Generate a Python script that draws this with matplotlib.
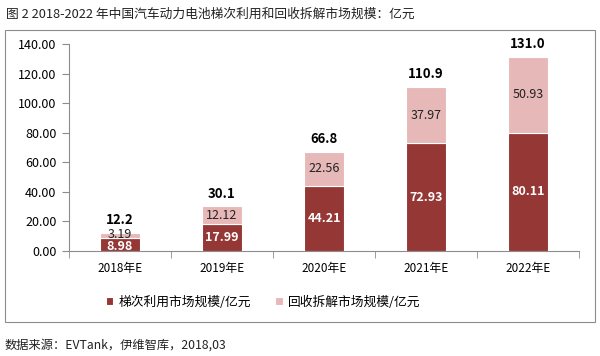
import matplotlib
matplotlib.use("Agg")
import matplotlib.pyplot as plt
from matplotlib.patches import Rectangle
import numpy as np

plt.rcParams['font.family'] = ['Noto Sans CJK SC', 'DejaVu Sans']

categories = ["2018年E", "2019年E", "2020年E", "2021年E", "2022年E"]
cascade = [8.98, 17.99, 44.21, 72.93, 80.11]
recycle = [3.19, 12.12, 22.56, 37.97, 50.93]
totals = ["12.2", "30.1", "66.8", "110.9", "131.0"]
series_names = ["梯次利用市场规模/亿元", "回收拆解市场规模/亿元"]
yticks = [0, 20, 40, 60, 80, 100, 120, 140]

dark = "#953735"
pink = "#E6B9B8"

fig = plt.figure(figsize=(6, 3.56), dpi=100)
# outer frame
fig.patches.append(Rectangle((5/600, 1-322/356), 590/600, (322-30)/356,
                             transform=fig.transFigure, fill=False,
                             edgecolor="#8c8c8c", linewidth=0.8))
fig.text(6/600, 1-14/356, "图 2 2018-2022 年中国汽车动力电池梯次利用和回收拆解市场规模：亿元",
         fontsize=9.2, va="center", ha="left", color="#222222")
fig.text(5/600, 1-345/356, "数据来源：EVTank，伊维智库，2018,03",
         fontsize=8.8, va="center", ha="left", color="#222222")

ax = fig.add_axes([69/600, 1-251/356, 510/600, (251-44)/356])
x = np.arange(len(categories))
w = 0.39
b1 = ax.bar(x, cascade, w, color=dark, edgecolor="white", linewidth=0.8,
            label=series_names[0], zorder=3)
b2 = ax.bar(x, recycle, w, bottom=cascade, color=pink, edgecolor="white",
            linewidth=0.8, label=series_names[1], zorder=3)

for i in range(len(x)):
    c = cascade[i]; r = recycle[i]
    ax.text(x[i], c/2 - (1.5 if i == 0 else 0), f"{c:.2f}", ha="center", va="center",
            color="white", fontsize=9, fontweight="bold", zorder=4)
    ax.text(x[i], c + r/2 + (0.8 if i == 0 else 0), f"{r:.2f}", ha="center", va="center",
            color="#222222", fontsize=9, zorder=4)
    ax.text(x[i], c + r + 4, totals[i], ha="center", va="bottom",
            color="black", fontsize=9.5, fontweight="bold", zorder=4)

ax.set_xlim(-0.5, len(x) - 0.5)
ax.set_ylim(0, 140)
ax.set_yticks(yticks)
ax.set_yticklabels([f"{v:.2f}" for v in yticks], fontsize=9)
ax.set_xticks(x)
ax.set_xticklabels(categories, fontsize=8.5)
ax.set_xticks(np.arange(-0.5, len(x) + 0.5, 1), minor=True)
ax.tick_params(axis="x", which="major", length=0, pad=8)
ax.tick_params(axis="x", which="minor", length=5, color="#8c8c8c", direction="out")
ax.tick_params(axis="y", length=5, color="#8c8c8c", direction="out", pad=4)
for s in ["top", "right"]:
    ax.spines[s].set_visible(False)
for s in ["left", "bottom"]:
    ax.spines[s].set_color("#8c8c8c")
    ax.spines[s].set_linewidth(0.8)

fig.legend(handles=[b1, b2], labels=series_names, loc="center",
           bbox_to_anchor=(263/600, 1-302/356), ncol=2, frameon=False, fontsize=9.2,
           handlelength=0.6, handleheight=0.6, columnspacing=1.9, handletextpad=0.4)

fig.savefig("out.png", dpi=100)
